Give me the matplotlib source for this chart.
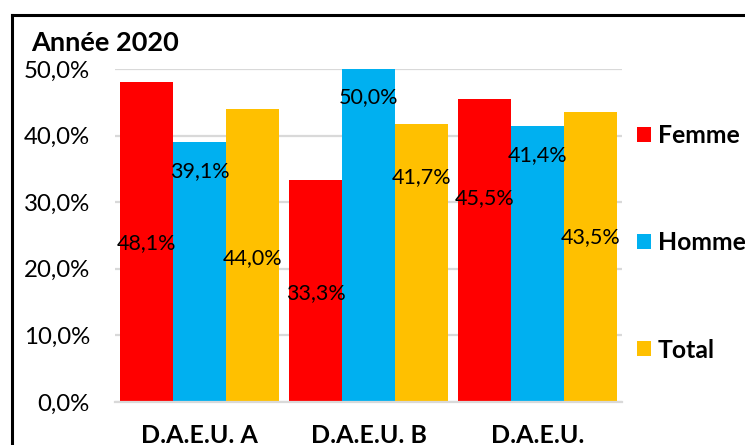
import matplotlib
matplotlib.use("Agg")
import matplotlib.pyplot as plt
import numpy as np
from matplotlib.lines import Line2D

categories = ["D.A.E.U. A", "D.A.E.U. B", "D.A.E.U."]
series_names = ["Femme", "Homme", "Total"]
femme = [48.1, 33.3, 45.5]
homme = [39.1, 50.0, 41.4]
total = [44.0, 41.7, 43.5]
# vertical position (in % units) where each data label sits (manually placed in original)
label_y_femme = [23.9, 16.4, 30.6]
label_y_homme = [34.7, 45.8, 37.1]
label_y_total = [21.6, 33.8, 24.8]
yticks = [0, 10, 20, 30, 40, 50]
title = "Année 2020"

colors = ["#FF0000", "#00B0F0", "#FFC000"]

plt.rcParams['font.family'] = ['Lato', 'DejaVu Sans']

W, H = 745, 445
fig = plt.figure(figsize=(W / 100, H / 100), dpi=100)
ax = fig.add_axes([115 / W, 1 - 402 / H, (622 - 115) / W, (402 - 69) / H])

def fmt(v):
    return f"{v:.1f}".replace(".", ",") + "%"

x = np.arange(len(categories))
bw = 0.312
values = [femme, homme, total]
label_ys = [label_y_femme, label_y_homme, label_y_total]
for i, (vals, ly, c, name) in enumerate(zip(values, label_ys, colors, series_names)):
    pos = x + (i - 1) * bw
    ax.bar(pos, vals, width=bw, color=c, label=name, zorder=2, linewidth=0)
    for px, v, yy in zip(pos, vals, ly):
        ax.text(px, yy, fmt(v), ha="center", va="center", fontsize=15.5,
                color="black", zorder=3)

ax.set_xlim(-0.5, 2.5)
ax.set_ylim(0, 50)
ax.set_yticks(yticks)
ax.set_yticklabels([fmt(t) for t in yticks], fontsize=17.3)
ax.set_xticks(x)
ax.set_xticklabels(categories, fontsize=18, fontweight="bold")
ax.tick_params(axis="both", length=0)
ax.tick_params(axis="y", pad=18)
ax.tick_params(axis="x", pad=16)
ax.yaxis.grid(True, color="#d9d9d9", linewidth=1.6, zorder=0)
ax.set_axisbelow(True)
for s in ["top", "right", "left"]:
    ax.spines[s].set_visible(False)
ax.spines["bottom"].set_color("#d9d9d9")
ax.spines["bottom"].set_linewidth(1.6)

fig.text(31 / W, 1 - 43 / H, title, fontsize=19.5, fontweight="bold",
         ha="left", va="center")

leg = fig.legend(loc="center left", bbox_to_anchor=(637 / W, 1 - 243 / H),
                 frameon=False, prop={"size": 17.8, "weight": "bold"},
                 handlelength=0.57, handleheight=0.57, handletextpad=0.28,
                 labelspacing=3.4, borderpad=0, borderaxespad=0)

# outer chart border (extends beyond the visible crop)
fig.add_artist(Line2D([11.5 / W, 1.05], [1 - 14.5 / H] * 2, color="black", lw=2.2))
fig.add_artist(Line2D([11.5 / W] * 2, [1 - 14.5 / H, -0.05], color="black", lw=2.2))

fig.savefig("out.png", dpi=100)
